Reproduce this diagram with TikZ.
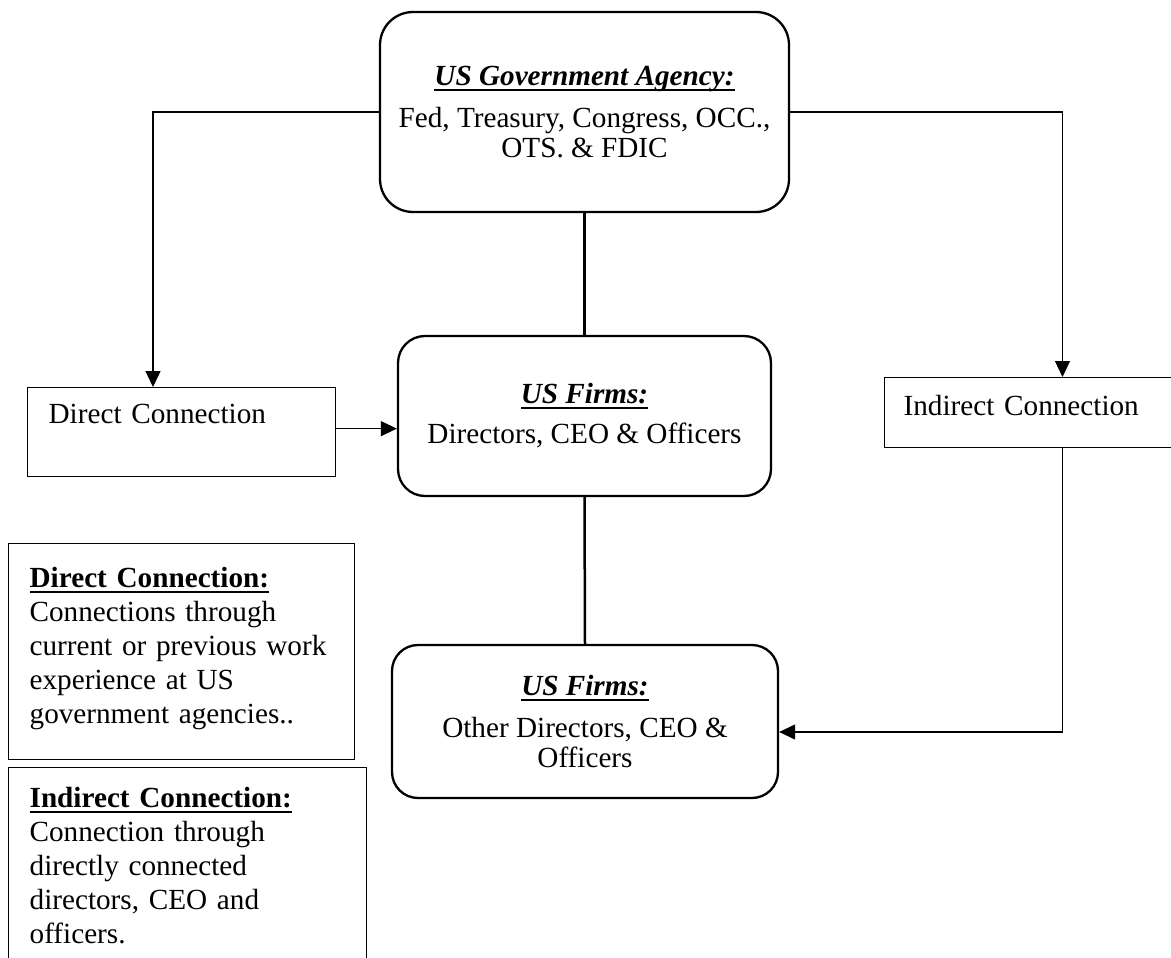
\documentclass[tikz,border=0pt]{standalone}
\usepackage{fontspec}
\setmainfont{Liberation Serif}
\usetikzlibrary{arrows.meta}
\newsavebox\myulbox
\newcommand\myul[1]{\sbox\myulbox{#1}\rlap{\rule[-5.5pt]{\wd\myulbox}{2pt}}\usebox\myulbox}
\tikzset{
  rbox/.style={draw, line width=2.3pt, rounded corners=#1, align=center, inner sep=0pt,
    font=\fontsize{29.2pt}{29.5pt}\selectfont},
  thinbox/.style={draw, line width=1.3pt, inner xsep=21pt, inner ysep=0pt, align=left,
    anchor=north west, font=\fontsize{29.2pt}{34pt}\selectfont},
  conn/.style={line width=1.3pt, -{Triangle[length=16pt,width=15pt]}},
  thickline/.style={line width=2.5pt}
}
\begin{document}
\begin{tikzpicture}[x=1pt,y=-1pt]
\useasboundingbox (0,0) rectangle (1171,958);
\clip (0,0) rectangle (1171,958);

\node[rbox=33pt, minimum width=409pt, minimum height=200pt] (gov) at (584.5,112)
  {\myul{\textbf{\textit{US Government Agency:}}}\\[12.5pt]
   Fed, Treasury, Congress, OCC.,\\ OTS. \& FDIC};
\node[rbox=27pt, minimum width=373pt, minimum height=160pt] (firm1) at (584.5,416)
  {\myul{\textbf{\textit{US Firms:}}}\\[10.5pt] Directors, CEO \& Officers};
\node[rbox=26pt, minimum width=386pt, minimum height=153pt] (firm2) at (585,721.5)
  {\myul{\textbf{\textit{US Firms:}}}\\[12.5pt] Other Directors, CEO \&\\ Officers};

\node[thinbox, text width=266pt, text height=36pt, text depth=53pt] (dc) at (27,387)
  {Direct Connection};
\node[thinbox, inner xsep=19pt, text width=258pt, text height=38pt, text depth=32pt] (ic) at (884,377)
  {Indirect Connection};

\node[thinbox, text width=304pt, text height=44pt, text depth=172pt] (leg1) at (8,543)
  {\myul{\textbf{Direct Connection:}}\\ Connections through\\ current or previous work\\
   experience at US\\ government agencies..};
\node[thinbox, text width=316pt, text height=40pt, text depth=170pt] (leg2) at (8,767)
  {\myul{\textbf{Indirect Connection:}}\\ Connection through\\ directly connected\\
   directors, CEO and\\ officers.};

\coordinate (lx) at (153,0);
\coordinate (rx) at (1062.5,0);
\draw[conn] (gov.west) -| (lx |- dc.north);
\draw[conn] (gov.east) -| (rx |- ic.north);
\draw[conn] ([yshift=3.5pt]dc.east) -- ([yshift=3.5pt]dc.east -| firm1.west);
\draw[thickline] (gov.south) -- (firm1.north);
\draw[thickline] (firm1.south) -- (firm2.north);
\draw[conn] (rx |- ic.south) |- ([yshift=-10.5pt]firm2.east);
\end{tikzpicture}
\end{document}
